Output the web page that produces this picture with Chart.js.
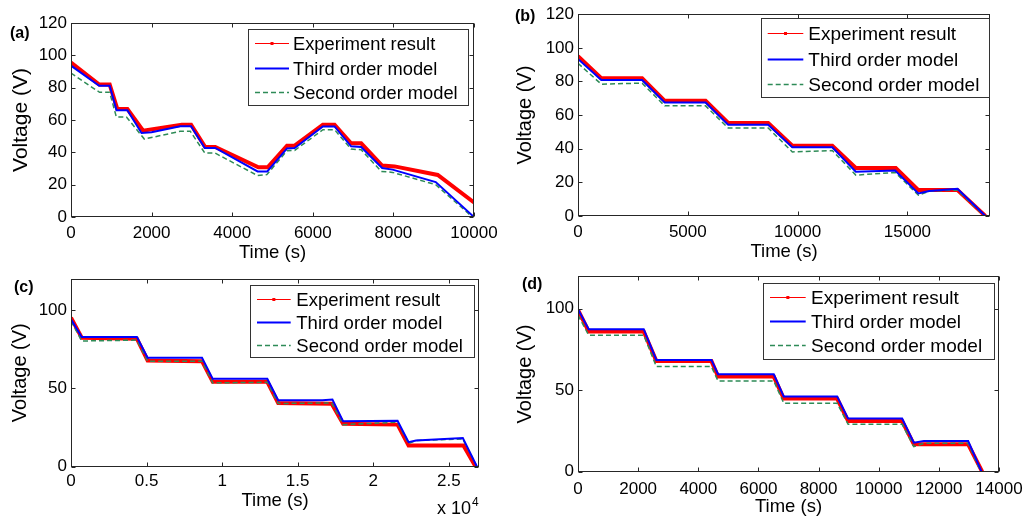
<!DOCTYPE html>
<html><head><meta charset="utf-8">
<script src="https://cdn.jsdelivr.net/npm/chart.js@4.4.0/dist/chart.umd.min.js"></script>
<style>
html,body{margin:0;padding:0;background:#fff;width:1032px;height:518px;overflow:hidden;font-family:"Liberation Sans",Arial,sans-serif;}
canvas{position:absolute;}
.lbl{position:absolute;font-weight:bold;font-size:16px;line-height:16px;color:#000;z-index:2;}
.mult{position:absolute;font-size:18px;line-height:18px;color:#000;z-index:2;white-space:nowrap;}
.mult span{font-size:12px;position:relative;top:-8px;margin-left:1px;}
</style></head><body>
<canvas id="ca" width="510" height="262" style="left:0;top:0"></canvas>
<canvas id="cb" width="527" height="262" style="left:505px;top:0"></canvas>
<canvas id="cc" width="510" height="256" style="left:0;top:262px"></canvas>
<canvas id="cd" width="527" height="256" style="left:505px;top:262px"></canvas>
<div class="lbl" style="left:10px;top:25px">(a)</div>
<div class="lbl" style="left:515px;top:8px">(b)</div>
<div class="lbl" style="left:14px;top:279px">(c)</div>
<div class="lbl" style="left:522px;top:276px">(d)</div>
<div class="mult" style="left:437px;top:499px">x 10<span>4</span></div>
<script>
const FONT = '"Liberation Sans", Arial, sans-serif';
Chart.defaults.font.family = FONT;
Chart.defaults.color = '#000';

// ---------- Panel (a) ----------
const aExpT = [0, 700, 960, 1150, 1400, 1790, 2750, 2980, 3330, 3580, 4650, 4880, 5360, 5550, 6250, 6540, 6950, 7200, 7720, 8030, 9100, 10000];
const aExpV = [95.5, 81.9, 81.9, 66.8, 66.8, 53.4, 57.1, 57.1, 43.3, 43.3, 30.7, 30.7, 44.1, 44.1, 57.1, 57.1, 45.6, 45.6, 31.8, 31.3, 26.0, 9.0];
const aThirdT = [0, 700, 960, 1130, 1400, 1750, 2000, 2710, 2980, 3320, 3580, 4630, 4870, 5360, 5550, 6250, 6540, 6950, 7200, 7720, 7980, 9050, 10000];
const aThirdV = [93.6, 81.2, 81.2, 66.0, 66.0, 52.0, 52.4, 56.1, 56.1, 42.7, 42.7, 28.2, 28.2, 42.4, 42.7, 56.0, 56.0, 43.7, 43.3, 30.3, 29.3, 21.6, 0];
const aSecondT = [0, 710, 960, 1125, 1375, 1820, 2710, 2960, 3320, 3570, 4630, 4860, 5360, 5550, 6250, 6540, 6950, 7200, 7700, 7980, 9050, 9960];
const aSecondV = [89.0, 77.1, 77.1, 61.9, 61.9, 48.2, 53.0, 53.0, 39.6, 39.6, 25.6, 26.2, 41.0, 41.2, 54.0, 54.0, 42.0, 41.6, 28.2, 27.6, 20.0, 0];
const aXTicks = [0, 2000, 4000, 6000, 8000, 10000];
const aYTicks = [0, 20, 40, 60, 80, 100, 120];

// ---------- Panel (b) ----------
const bExpT = [0, 1060, 2920, 3950, 5810, 6840, 8660, 9760, 11580, 12650, 14470, 15500, 17280, 18550];
const bExpV = [95.1, 81.9, 81.9, 68.5, 68.5, 55.3, 55.3, 41.8, 41.8, 28.6, 28.6, 15.4, 15.4, 0];
const bThirdT = [0, 1060, 2920, 3950, 5810, 6840, 8660, 9760, 11580, 12650, 14440, 15500, 15990, 17280, 18550];
const bThirdV = [93.4, 80.9, 80.9, 67.5, 67.5, 54.3, 54.3, 40.9, 40.9, 26.3, 27.0, 13.4, 14.8, 16.2, 0];
const bSecondT = [0, 1060, 2920, 3950, 5810, 6840, 8660, 9760, 11580, 12650, 14440, 15500, 15990, 17280, 18500];
const bSecondV = [90.8, 78.4, 79.0, 65.5, 65.5, 52.3, 52.3, 38.1, 38.9, 24.3, 25.9, 12.4, 14.8, 15.4, 0];
const bXTicks = [0, 5000, 10000, 15000];
const bYTicks = [0, 20, 40, 60, 80, 100, 120];

// ---------- Panel (c) ----------
const cExpT = [0, 710, 4360, 5070, 8670, 9380, 12990, 13710, 17250, 18010, 21610, 22340, 25970, 26770];
const cExpV = [95.3, 82.4, 81.8, 67.9, 67.4, 54.2, 54.2, 40.7, 40.2, 27.4, 26.8, 13.5, 13.5, 0];
const cThirdT = [0, 710, 4360, 5070, 8670, 9380, 12990, 13710, 16630, 17300, 18010, 21610, 22340, 22830, 25930, 26860];
const cThirdV = [94.2, 82.9, 82.9, 69.6, 69.6, 56.1, 56.1, 42.4, 42.4, 42.8, 28.9, 29.3, 15.6, 16.7, 18.2, 0];
const cSecondT = [0, 710, 4360, 5070, 8670, 9380, 12990, 13710, 17250, 18010, 21610, 22340, 22830, 25930, 26860];
const cSecondV = [93.1, 80.3, 80.9, 67.4, 67.4, 53.5, 53.9, 40.3, 40.7, 26.8, 28.3, 14.6, 16.7, 17.6, 0];
const cXTicks = [0, 5000, 10000, 15000, 20000, 25000];
const cYTicks = [0, 50, 100];

// ---------- Panel (d) ----------
const dExpT = [0, 355, 2185, 2606, 4436, 4658, 6510, 6843, 8617, 8983, 10779, 11168, 12975, 13441];
const dExpV = [99.4, 86.1, 86.1, 68.0, 68.0, 58.4, 58.4, 44.9, 44.9, 31.1, 31.1, 16.8, 16.8, 0];
const dThirdT = [0, 355, 2185, 2606, 4436, 4658, 6510, 6843, 8617, 8983, 10779, 11168, 11500, 12975, 13420];
const dThirdV = [99.8, 87.5, 87.5, 68.6, 68.6, 59.8, 59.8, 46.1, 46.1, 32.6, 32.6, 17.8, 18.9, 18.9, 0];
const dSecondT = [0, 355, 2185, 2606, 4436, 4658, 6510, 6843, 8617, 8983, 10779, 11168, 11500, 12975, 13390];
const dSecondV = [96.1, 83.8, 83.8, 64.5, 64.5, 55.7, 55.7, 42.0, 42.0, 29.1, 29.1, 15.4, 17.4, 17.4, 0];
const dXTicks = [0, 2000, 4000, 6000, 8000, 10000, 12000, 14000];
const dYTicks = [0, 50, 100];

const seriesLabels = ['Experiment result', 'Third order model', 'Second order model'];

function pts(t, v) { return t.map((x, i) => ({ x: x, y: v[i] })); }

function makeDatasets(eT, eV, tT, tV, sT, sV) {
  return [
    { label: seriesLabels[0], data: pts(eT, eV), borderColor: '#ff0000', backgroundColor: '#ff0000',
      borderWidth: 4, order: 3, legendWidth: 1, legendMarker: true },
    { label: seriesLabels[1], data: pts(tT, tV), borderColor: '#0000ff', backgroundColor: '#0000ff',
      borderWidth: 2, order: 1 },
    { label: seriesLabels[2], data: pts(sT, sV), borderColor: '#2e8b57', backgroundColor: '#2e8b57',
      borderWidth: 1.5, borderDash: [5, 3], order: 2 }
  ];
}

const boxPlugin = {
  id: 'matlabBox',
  afterDraw(chart, args, o) {
    const ctx = chart.ctx, a = chart.chartArea;
    const xs = chart.scales.x, ys = chart.scales.y;
    const L = Math.round(a.left) + 0.5, R = Math.round(a.right) - 0.5;
    const T = Math.round(a.top) + 0.5, B = Math.round(a.bottom) - 0.5;
    const len = 4;
    ctx.save();
    ctx.setLineDash([]);
    ctx.strokeStyle = '#262626';
    ctx.lineWidth = 1;
    ctx.strokeRect(L, T, R - L, B - T);
    ctx.beginPath();
    xs.ticks.forEach(t => {
      const px = Math.round(xs.getPixelForValue(t.value)) + 0.5;
      ctx.moveTo(px, B); ctx.lineTo(px, B - len);
      ctx.moveTo(px, T); ctx.lineTo(px, T + len);
    });
    ys.ticks.forEach(t => {
      const py = Math.round(ys.getPixelForValue(t.value)) + 0.5;
      ctx.moveTo(L, py); ctx.lineTo(L + len, py);
      ctx.moveTo(R, py); ctx.lineTo(R - len, py);
    });
    ctx.stroke();

    const lg = o.legend;
    if (lg) {
      ctx.fillStyle = '#fff';
      ctx.fillRect(lg.x, lg.y, lg.w, lg.h);
      ctx.strokeStyle = '#333';
      ctx.lineWidth = 1;
      ctx.strokeRect(Math.round(lg.x) + 0.5, Math.round(lg.y) + 0.5, Math.round(lg.w), Math.round(lg.h));
      chart.data.datasets.forEach((ds, i) => {
        const yy = Math.round(lg.y + lg.row0 + i * lg.gap) + 0.5;
        ctx.beginPath();
        ctx.strokeStyle = ds.borderColor;
        ctx.lineWidth = ds.legendWidth || ds.borderWidth;
        ctx.setLineDash(ds.borderDash || []);
        ctx.moveTo(lg.x + lg.l0, yy);
        ctx.lineTo(lg.x + lg.l1, yy);
        ctx.stroke();
        ctx.setLineDash([]);
        if (ds.legendMarker) {
          ctx.fillStyle = ds.borderColor;
          ctx.fillRect(lg.x + (lg.l0 + lg.l1) / 2 - 1.5, yy - 1.5, 3, 3);
        }
        ctx.fillStyle = '#000';
        ctx.font = lg.size + 'px ' + FONT;
        ctx.textBaseline = 'middle';
        ctx.textAlign = 'left';
        ctx.fillText(ds.label, lg.x + lg.tx, yy + 1);
      });
    }
    ctx.restore();
  }
};

function makeChart(id, ds, xTicks, yTicks, xMax, g, xFmt) {
  return new Chart(document.getElementById(id), {
    type: 'line',
    data: { datasets: ds },
    options: {
      responsive: false, animation: false, devicePixelRatio: 1,
      layout: { padding: { top: g.padTop, right: g.padRight, left: 0, bottom: 0 } },
      plugins: { legend: { display: false }, tooltip: { enabled: false }, matlabBox: { legend: g.legend } },
      elements: { point: { radius: 0 }, line: { tension: 0 } },
      scales: {
        x: {
          type: 'linear', min: 0, max: xMax,
          grid: { display: false, drawTicks: false }, border: { display: false },
          afterBuildTicks: s => { s.ticks = xTicks.map(v => ({ value: v })); },
          afterFit: s => { s.height = g.xH; },
          ticks: { padding: g.xTickPad, font: { size: 17, lineHeight: 1.2 }, color: '#000', maxRotation: 0, autoSkip: false,
                   callback: xFmt || (v => String(v)) },
          title: { display: true, text: 'Time (s)', color: '#000', font: { size: 18.5, lineHeight: 1 },
                   padding: { top: 0, bottom: g.xTitlePad } }
        },
        y: {
          type: 'linear', min: 0, max: 120,
          grid: { display: false, drawTicks: false }, border: { display: false },
          afterBuildTicks: s => { s.ticks = yTicks.map(v => ({ value: v })); },
          afterFit: s => { s.width = g.yW; },
          ticks: { padding: 4, font: { size: 17, lineHeight: 1.2 }, color: '#000', autoSkip: false,
                   callback: v => String(v) },
          title: { display: true, text: 'Voltage (V)', color: '#000', font: { size: g.ySize, lineHeight: 1 },
                   padding: { top: g.yTitlePad, bottom: 0 } }
        }
      }
    },
    plugins: [boxPlugin]
  });
}

makeChart('ca', makeDatasets(aExpT, aExpV, aThirdT, aThirdV, aSecondT, aSecondV), aXTicks, aYTicks, 10000,
  { padTop: 23, padRight: 36, yW: 71, xH: 45, ySize: 21, yTitlePad: 10.5, xTitlePad: 0, xTickPad: 6, 
    legend: { x: 248, y: 29, w: 220, h: 76, row0: 14, gap: 24.5, l0: 7, l1: 41, tx: 45, size: 18.3 } });

makeChart('cb', makeDatasets(bExpT, bExpV, bThirdT, bThirdV, bSecondT, bSecondV), bXTicks, bYTicks, 18760,
  { padTop: 13, padRight: 42, yW: 73, xH: 46, ySize: 20, yTitlePad: 10, xTitlePad: 1.25, xTickPad: 6,
    legend: { x: 255.7, y: 18.3, w: 228.3, h: 79, row0: 15, gap: 25.3, l0: 7, l1: 42.6, tx: 47.6, size: 19 } });

makeChart('cc', makeDatasets(cExpT, cExpV, cThirdT, cThirdV, cSecondT, cSecondV), cXTicks, cYTicks, 27000,
  { padTop: 17, padRight: 31, yW: 71, xH: 51.5, ySize: 20, yTitlePad: 10, xTitlePad: 7.75, xTickPad: 4.3,
    legend: { x: 250.3, y: 23.3, w: 223.7, h: 72.4, row0: 13.4, gap: 23.2, l0: 6.7, l1: 40.4, tx: 46, size: 18.5 } },
  v => String(v / 10000));

makeChart('cd', makeDatasets(dExpT, dExpV, dThirdT, dThirdV, dSecondT, dSecondV), dXTicks, dYTicks, 14000,
  { padTop: 13, padRight: 33, yW: 73, xH: 46.3, ySize: 20, yTitlePad: 10, xTitlePad: 1.75, xTickPad: 7,
    legend: { x: 258.3, y: 20.7, w: 231, h: 76, row0: 14.3, gap: 24.2, l0: 6.7, l1: 42.4, tx: 47.7, size: 19 } });
</script>
</body></html>
